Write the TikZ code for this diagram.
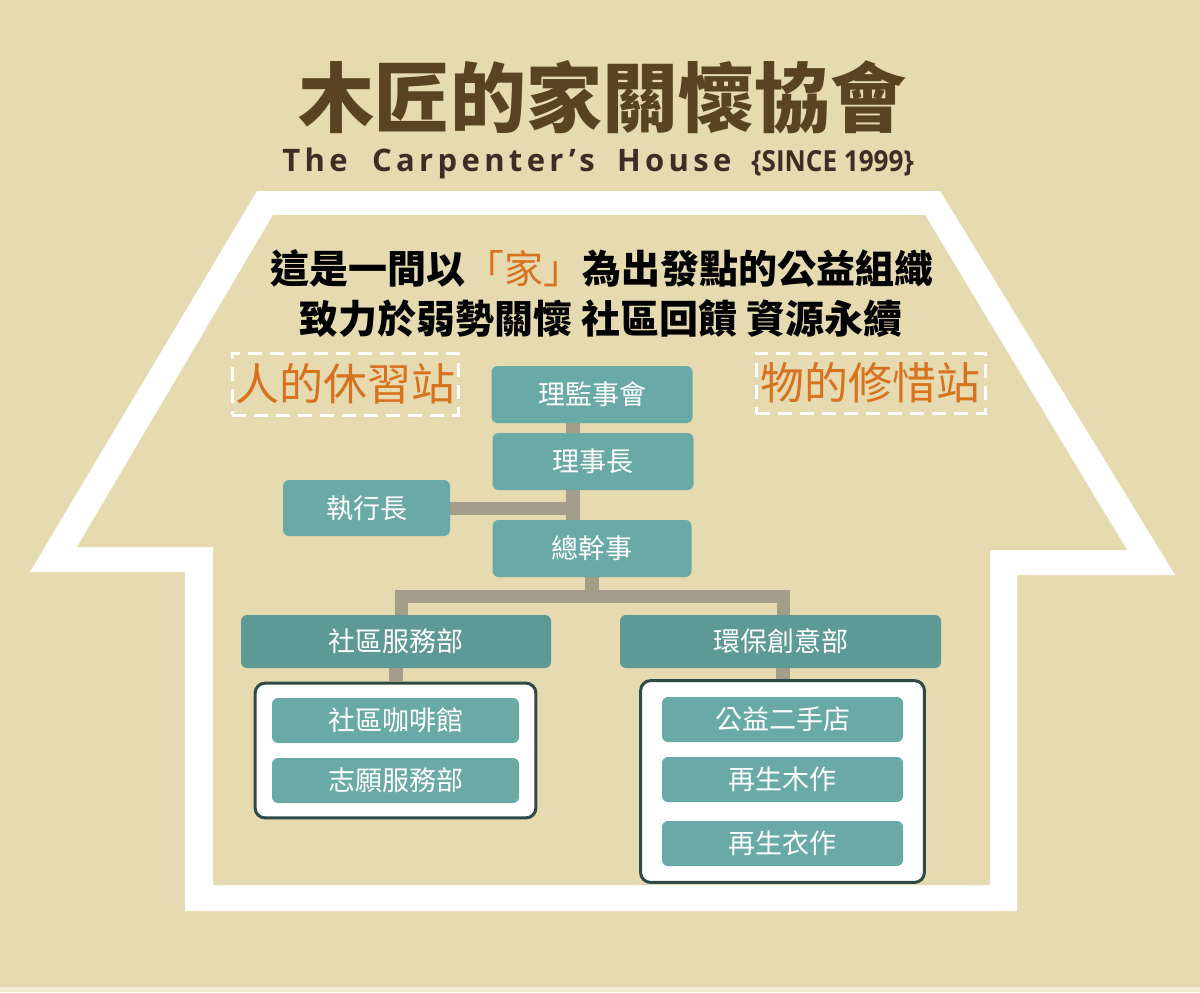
\documentclass[tikz,border=0pt]{standalone}
\usepackage{fontspec}
\usepackage{xcolor}
\usepackage{graphicx}
\usetikzlibrary{fit}
\usetikzlibrary{backgrounds}

\newfontfamily\cjk{Noto Sans CJK TC}
\newfontfamily\housefont{Open Sans}[LetterSpace=14]
\newfontfamily\sincefont{Open Sans}

\definecolor{bgbeige}{HTML}{E6DAB0}
\definecolor{floorcream}{HTML}{F2EBD3}
\definecolor{titlebrown}{HTML}{5A4322}
\definecolor{subbrown}{HTML}{3C2E24}
\definecolor{orgorange}{HTML}{D8721F}
\definecolor{boxteal}{HTML}{6AAAA6}
\definecolor{deptteal}{HTML}{5E9A95}
\definecolor{linkgray}{HTML}{A39D8A}
\definecolor{groupline}{HTML}{2F4A45}

\begin{document}
\begin{tikzpicture}[x=0.5pt,y=-0.5pt,
	post/.style={rectangle, rounded corners=3pt, fill=boxteal, text=white,
		font=\cjk\fontsize{13.5}{13.5}\selectfont, inner sep=0pt},
	dept/.style={post, fill=deptteal},
	group/.style={rectangle, rounded corners=5pt, draw=groupline,
		line width=1.5pt, fill=white},
	station/.style={rectangle, draw=white, line width=1.5pt,
		dash pattern=on 7pt off 4pt, text=orgorange,
		font=\cjk\fontsize{22}{22}\selectfont, inner sep=0pt},
	link/.style={draw=linkgray, line width=7pt}]
			%\draw[help lines] (0,0) grid (1200,992);
			
			\useasboundingbox (0,0) rectangle (1200,992);
			
			% heading
			\node[text=titlebrown, font=\cjk\bfseries\fontsize{38}{38}\selectfont] (title) at (602,97) {木匠的家關懷協會};
			\node[anchor=base west, inner sep=0pt, text=subbrown, font=\housefont\bfseries\fontsize{15.5}{15.5}\selectfont] (name) at (282,171) {The\hspace{6pt} Carpenter’s\hspace{5pt} House};
			\node[anchor=base west, inner sep=0pt, text=subbrown, font=\sincefont\bfseries\fontsize{14.5}{14.5}\selectfont] (since) at (751,171) {\scalebox{0.9}[1]{\{SINCE 1999\}}};
			
			\node[font=\cjk\bfseries\fontsize{19.5}{19.5}\selectfont] (slogan) at (602,268) {這是一間以{\mdseries\color{orgorange}「家」}為出發點的公益組織};
			\node[font=\cjk\bfseries\fontsize{19.5}{19.5}\selectfont] (mission) at (601,318) {致力於弱勢關懷 社區回饋 資源永續};
			
			\node[station, minimum width=113pt, minimum height=31pt] (people) at (345,384) {人的休習站};
			\node[station, minimum width=114.5pt, minimum height=30pt] (things) at (870.5,383) {物的修惜站};
			
			% org chart
			\node[post, minimum width=100.5pt, minimum height=28.5pt] (board) at (592,394.5) {理監事會};
			\node[post, minimum width=100.5pt, minimum height=28.5pt] (chair) at (593,461.5) {理事長};
			\node[post, minimum width=83.5pt, minimum height=28pt] (ceo) at (366.5,508) {執行長};
			\node[post, minimum width=99.5pt, minimum height=28.5pt] (gensec) at (592,548.5) {總幹事};
			
			\node[dept, minimum width=155pt, minimum height=26.5pt] (svc) at (396,641.5) {社區服務部};
			\node[dept, minimum width=160.5pt, minimum height=26.5pt] (eco) at (780.5,641.5) {環保創意部};
			
			\node[post, minimum width=123.5pt, minimum height=22.5pt] (cafe) at (395.5,720.5) {社區咖啡館};
			\node[post, minimum width=123.5pt, minimum height=22.5pt] (volun) at (395.5,780.5) {志願服務部};
			
			\node[post, minimum width=120.5pt, minimum height=22.5pt] (shop) at (782.5,719.5) {公益二手店};
			\node[post, minimum width=120.5pt, minimum height=22.5pt] (wood) at (782.5,779.5) {再生木作};
			\node[post, minimum width=120.5pt, minimum height=22.5pt] (cloth) at (782.5,843.5) {再生衣作};
			
			\begin{scope}[on background layer]
			\fill[bgbeige] (0,0) rectangle (1200,992);
			\fill[floorcream] (0,987) rectangle (1200,992);
			
			% house outline
			\fill[white] (257,191) -- (940,191) -- (1175,575) -- (1017,575) -- (1017,911) -- (185,911) -- (185,572) -- (30,572) -- cycle;
			\fill[bgbeige] (273,215) -- (925,215) -- (1127,550) -- (990,550) -- (990,885) -- (213,885) -- (213,547) -- (77,547) -- cycle;
			
			\node[group, fit=(cafe)(volun), inner xsep=8.25pt, inner ysep=7.25pt] (svcgroup) {};
			\node[group, fit=(shop)(cloth), inner xsep=10.5pt, inner ysep=8pt] (ecogroup) {};
			
			\coordinate (trunk) at ([xshift=-9.5pt]board.south);
			\coordinate (split) at (592,596);
			
			\draw[link] (trunk) -- (trunk |- gensec.north);
			\draw[link, line width=6.5pt] (ceo.east) -- (trunk |- ceo.east);
			\draw[link] (gensec.south) -- (split);
			\draw[link, line width=6.5pt] ([xshift=2.5pt]svc.north) |- (split) -| ([xshift=1.25pt]eco.north);
			\draw[link] (svcgroup.north) -- (svcgroup.north |- svc.south);
			\draw[link] (ecogroup.north) -- (ecogroup.north |- eco.south);
			\end{scope}
			
			\end{tikzpicture}
\end{document}
